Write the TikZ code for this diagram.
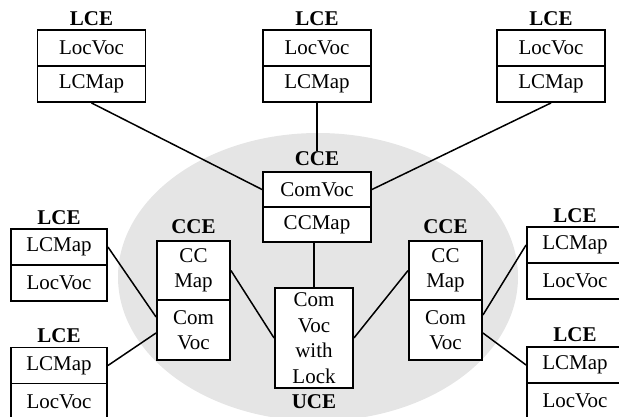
\documentclass[tikz,border=0pt]{standalone}
\usepackage{fontspec}
\setmainfont{Liberation Serif}
\usetikzlibrary{calc}
\begin{document}
\begin{tikzpicture}[x=1pt,y=-1pt,
  cell/.style={draw, line width=1.9pt, fill=white, inner sep=0pt, align=center,
    font=\fontsize{21}{25.5}\selectfont},
  lcecell/.style={cell, minimum width=108pt, minimum height=36pt},
  lcesmall/.style={cell, minimum width=96pt, minimum height=36pt},
  ccecell/.style={cell, minimum width=73pt, minimum height=59.5pt},
  lbl/.style={inner sep=1pt, font=\fontsize{21}{22}\selectfont\bfseries},
  conn/.style={line width=1.5pt}]
\clip (0,0) rectangle (619,417);
\useasboundingbox (0,0) rectangle (619,417);
\fill[gray!20] (318,277) ellipse [x radius=200, y radius=144];

% top LCEs
\node[lbl] (tll) at (91.5,19) {LCE};
\node[lcecell] (tlt) at (91.5,48) {LocVoc};
\node[lcecell] (tlb) at (91.5,84) {LCMap};
\node[lbl] (tml) at (317,19) {LCE};
\node[lcecell] (tmt) at (317,48) {LocVoc};
\node[lcecell] (tmb) at (317,84) {LCMap};
\node[lbl] (trl) at (551,19) {LCE};
\node[lcecell] (trt) at (551,48) {LocVoc};
\node[lcecell] (trb) at (551,84) {LCMap};

% central CCE
\node[lbl] (ccl) at (317,159) {CCE};
\node[lcecell, minimum height=35pt] (cct) at (317,189.5) {ComVoc};
\node[lcecell, minimum height=35pt] (ccb) at (317,224.5) {CCMap};

% UCE
\node[cell, minimum width=78pt, minimum height=100pt] (uce) at (314,338) {Com\\Voc\\with\\Lock};
\node[lbl] (ucel) at (314,402) {UCE};

% left CCE
\node[lbl] (lcl) at (193.5,227) {CCE};
\node[ccecell] (lct) at (193.5,270.5) {CC\\Map};
\node[ccecell] (lcb) at (193.5,330) {Com\\Voc};
% right CCE
\node[lbl] (rcl) at (445.5,227) {CCE};
\node[ccecell] (rct) at (445.5,270.5) {CC\\Map};
\node[ccecell] (rcb) at (445.5,330) {Com\\Voc};

% left LCEs
\node[lbl] (llul) at (59,218) {LCE};
\node[lcesmall] (llut) at (59,247) {LCMap};
\node[lcesmall] (llub) at (59,283) {LocVoc};
\node[lbl] (llll) at (59,336) {LCE};
\node[lcesmall] (lllt) at (59,365.5) {LCMap};
\node[lcesmall] (lllb) at (59,401.5) {LocVoc};
% right LCEs
\node[lbl] (rlul) at (575,216) {LCE};
\node[lcesmall] (rlut) at (575,245) {LCMap};
\node[lcesmall] (rlub) at (575,281) {LocVoc};
\node[lbl] (rlll) at (575,335) {LCE};
\node[lcesmall] (rllt) at (575,365) {LCMap};
\node[lcesmall] (rllb) at (575,401) {LocVoc};

% connectors
\draw[conn] (tlb.south) -- (cct.west);
\draw[conn] (trb.south) -- (cct.east);
\draw[conn] (tmb.south) -- (ccl.north);
\draw[conn] (ccb.south -| uce.north) -- (uce.north);
\draw[conn] (lct.east) -- (uce.west);
\draw[conn] (uce.east) -- (rct.west);
\draw[conn] (llut.east) -- ($(lcb.west)+(0,-13)$);
\draw[conn] (lllt.east) -- ($(lcb.west)+(0,3)$);
\draw[conn] ($(rcb.east)+(0,-15)$) -- (rlut.west);
\draw[conn] ($(rcb.east)+(0,3)$) -- (rllt.west);
\end{tikzpicture}
\end{document}
